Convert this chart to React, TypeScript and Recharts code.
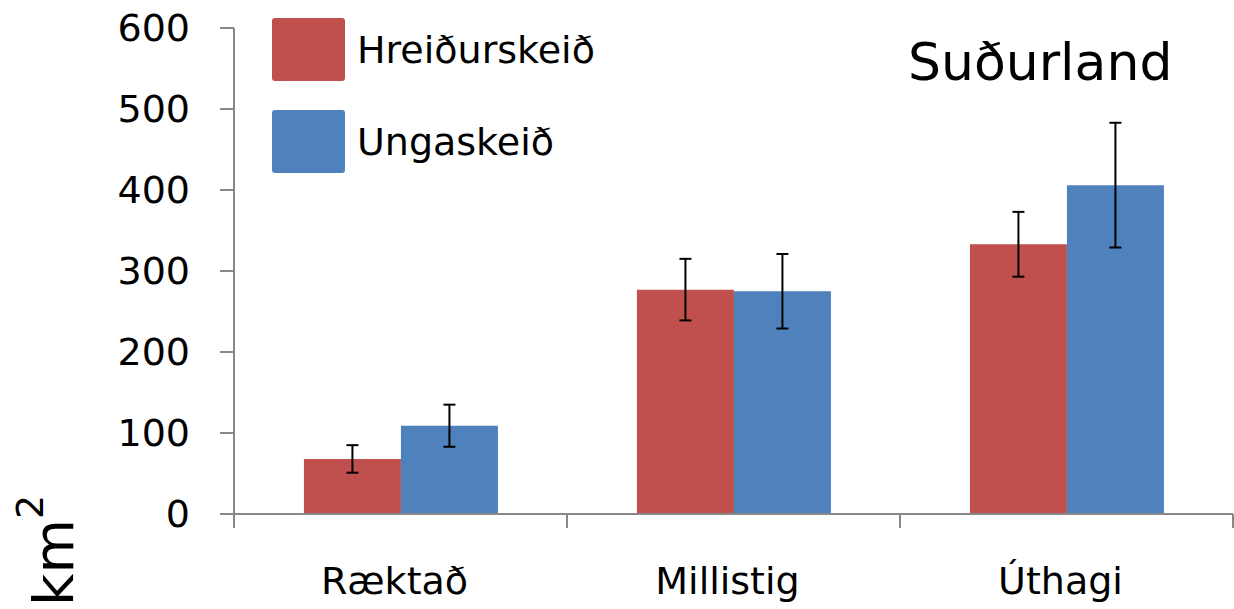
import React from 'react';
import { BarChart, Bar, XAxis, YAxis, ErrorBar, Customized } from 'recharts';

const categories = ['Ræktað', 'Millistig', 'Úthagi'];
const hreidurskeid = [68, 277, 333];
const hreidurErr = [17, 38, 40];
const ungaskeid = [109, 275, 406];
const ungaErr = [26, 46, 77];
const yTicks = [0, 100, 200, 300, 400, 500, 600];
const seriesNames = ['Hreiðurskeið', 'Ungaskeið'];

const data = categories.map((name, i) => ({
  name,
  hreidur: hreidurskeid[i],
  hreidurErr: hreidurErr[i],
  unga: ungaskeid[i],
  ungaErr: ungaErr[i],
}));

const FONT = '"DejaVu Sans", sans-serif';
const AXIS = '#888888';
const RED = '#C0504D';
const BLUE = '#4F81BD';

const CategoryTick = (props: any) => {
  const { x, y, payload, index, width } = props;
  const half = payload?.offset ?? width / (2 * categories.length);
  return (
    <g>
      <line x1={x - half} y1={y} x2={x - half} y2={y + 14} stroke={AXIS} strokeWidth={2} />
      {index === categories.length - 1 && (
        <line x1={x + half} y1={y} x2={x + half} y2={y + 14} stroke={AXIS} strokeWidth={2} />
      )}
      <text x={x - 6} y={y + 80} textAnchor="middle" fontSize={38} fontFamily={FONT} fill="#000">
        {payload.value}
      </text>
    </g>
  );
};

const Texts = () => (
  <g>
    <text x={908} y={80} fontSize={52} fontFamily={FONT} fill="#000">
      Suðurland
    </text>
    <text transform="translate(73, 606) rotate(-90)" fontSize={56} fontFamily={FONT} fill="#000">
      km
      <tspan fontSize={38} dy={-30}>2</tspan>
    </text>
  </g>
);

export default function App() {
  return (
    <div style={{ position: 'absolute', left: 0, top: 0, width: 1234, height: 609, background: '#fff' }}>
      <BarChart
        width={1234}
        height={609}
        data={data}
        margin={{ top: 28, right: 1, bottom: 0, left: 0 }}
        barCategoryGap="21%"
        barGap={0}
        style={{ fontFamily: FONT }}
      >
        <XAxis
          dataKey="name"
          height={95}
          axisLine={{ stroke: AXIS, strokeWidth: 2 }}
          tickLine={false}
          tickSize={0}
          tickMargin={0}
          tick={<CategoryTick />}
          interval={0}
        />
        <YAxis
          width={234}
          domain={[0, 600]}
          ticks={yTicks}
          interval={0}
          axisLine={{ stroke: AXIS, strokeWidth: 2 }}
          tickLine={{ stroke: AXIS, strokeWidth: 2 }}
          tickSize={14}
          tickMargin={30}
          tick={{ fontSize: 38, fill: '#000', fontFamily: FONT }}
        />
        <Bar dataKey="hreidur" name={seriesNames[0]} fill={RED} isAnimationActive={false}>
          <ErrorBar dataKey="hreidurErr" width={6} stroke="#000" strokeWidth={2} direction="y" />
        </Bar>
        <Bar dataKey="unga" name={seriesNames[1]} fill={BLUE} isAnimationActive={false}>
          <ErrorBar dataKey="ungaErr" width={6} stroke="#000" strokeWidth={2} direction="y" />
        </Bar>
        <Customized component={Texts} />
      </BarChart>
      <div
        style={{
          position: 'absolute',
          left: 272,
          top: 18,
          fontFamily: FONT,
          fontSize: 38,
          color: '#000',
        }}
      >
        {[RED, BLUE].map((color, i) => (
          <div key={seriesNames[i]} style={{ display: 'flex', alignItems: 'center', height: 63, marginBottom: 29 }}>
            <div style={{ width: 73, height: 63, background: color, borderRadius: 3, marginRight: 12 }} />
            <span>{seriesNames[i]}</span>
          </div>
        ))}
      </div>
    </div>
  );
}
